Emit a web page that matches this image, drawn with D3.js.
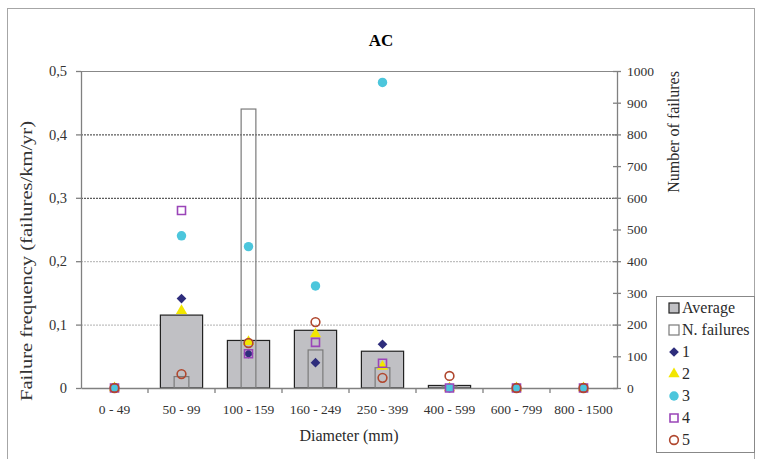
<!DOCTYPE html>
<html>
<head>
<meta charset="utf-8">
<script src="https://cdn.jsdelivr.net/npm/d3@7"></script>
<style>
  body { margin: 0; background: #fff; }
  svg, svg text { font-family: "Liberation Serif", "Times New Roman", "DejaVu Serif", serif !important; }
</style>
</head>
<body>
<script>
// diameter classes
const cats = ["0 - 49", "50 - 99", "100 - 159", "160 - 249", "250 - 399", "400 - 599", "600 - 799", "800 - 1500"];
// average failure frequency (left axis)
const average = [0, 0.115, 0.075, 0.091, 0.058, 0.004, 0, 0];
// number of failures (right axis)
const nFailures = [0, 36, 880, 120, 64, 6, 0, 0];
// failure frequency per zone
const s1 = [0, 0.141, 0.054, 0.040, 0.069, 0, 0, 0];
const s2 = [0, 0.122, 0.073, 0.085, 0.034, 0, 0, 0];
const s3 = [0, 0.240, 0.223, 0.161, 0.482, 0, 0, 0];
const s4 = [0, 0.280, 0.054, 0.072, 0.039, 0, 0, 0];
const s5 = [0, 0.022, 0.071, 0.104, 0.016, 0.019, 0, 0];
const leftTicks = [0, 0.1, 0.2, 0.3, 0.4, 0.5];
const rightTicks = [0, 100, 200, 300, 400, 500, 600, 700, 800, 900, 1000];

const width = 757, height = 459;
const margin = {top: 71, right: 140, bottom: 71, left: 81};

const svg = d3.select("body").append("svg")
    .attr("width", width)
    .attr("height", height);

// outer frame
svg.append("rect")
    .attr("x", 7.5).attr("y", 8.5)
    .attr("width", 747).attr("height", 470)
    .attr("fill", "none")
    .attr("stroke", "#a6a6a6");

const x = d3.scaleBand(cats, [margin.left, width - margin.right]);
const yL = d3.scaleLinear([0, 0.5], [height - margin.bottom, margin.top]);
const yR = d3.scaleLinear([0, 1000], [height - margin.bottom, margin.top]);

// title
svg.append("text")
    .attr("x", 381).attr("y", 46)
    .attr("text-anchor", "middle")
    .attr("font-size", 17)
    .attr("font-weight", "bold")
    .text("AC");

// grid
svg.append("g")
  .selectAll("line")
  .data(leftTicks.slice(1, -1))
  .join("line")
    .attr("x1", margin.left).attr("x2", width - margin.right)
    .attr("y1", d => yL(d) + 0.5).attr("y2", d => yL(d) + 0.5)
    .attr("stroke", d => d >= 0.3 ? "#333" : "#b0b0b0")
    .attr("stroke-dasharray", "2,1");

// top border
svg.append("line")
    .attr("x1", margin.left).attr("x2", width - margin.right)
    .attr("y1", margin.top + 0.5).attr("y2", margin.top + 0.5)
    .attr("stroke", "#888");

// average bars
const bwA = x.bandwidth() * 0.63;
svg.append("g")
  .selectAll("rect")
  .data(average)
  .join("rect")
    .attr("x", (d, i) => x(cats[i]) + (x.bandwidth() - bwA) / 2)
    .attr("y", d => yL(d))
    .attr("width", bwA)
    .attr("height", d => yL(0) - yL(d))
    .attr("fill", d => d > 0 ? "#c0c0c4" : "none")
    .attr("stroke", d => d > 0 ? "#222" : "none")
    .attr("stroke-width", 1.2);

// number of failures bars
const bwN = x.bandwidth() * 0.22;
svg.append("g")
  .selectAll("rect")
  .data(nFailures)
  .join("rect")
    .attr("x", (d, i) => x(cats[i]) + (x.bandwidth() - bwN) / 2)
    .attr("y", d => yR(d))
    .attr("width", bwN)
    .attr("height", d => yR(0) - yR(d))
    .attr("fill", "none")
    .attr("stroke", d => d > 0 ? "#7a7a7a" : "none")
    .attr("stroke-width", 1.2);

// axes
const axisColor = "#808080";
const gL = svg.append("g")
    .attr("transform", `translate(${margin.left},0)`)
    .call(d3.axisLeft(yL).tickValues(leftTicks).tickSize(5).tickSizeOuter(0).tickPadding(9)
      .tickFormat(d => d === 0 ? "0" : d3.format(".1f")(d).replace(".", ",")));
gL.selectAll("text").attr("font-size", 14.5).attr("fill", "#333");

const gR = svg.append("g")
    .attr("transform", `translate(${width - margin.right},0)`)
    .call(d3.axisRight(yR).tickValues(rightTicks).tickSize(4).tickSizeOuter(0).tickPadding(6)
      .tickFormat(d3.format("d")));
gR.selectAll(".tick line").attr("x1", -4);
gR.selectAll("text").attr("font-size", 13.5).attr("fill", "#333");

const gB = svg.append("g")
    .attr("transform", `translate(0,${height - margin.bottom})`)
    .call(d3.axisBottom(x).tickSize(0).tickPadding(16));
gB.selectAll("text").attr("font-size", 13.5).attr("fill", "#333");
gB.selectAll(".tick").filter((d, i) => i > 0).append("line")
    .attr("x1", -x.bandwidth() / 2).attr("x2", -x.bandwidth() / 2)
    .attr("y1", 0).attr("y2", 5)
    .attr("stroke", axisColor);

svg.selectAll(".domain, .tick line").attr("stroke", axisColor).attr("stroke-width", 1.3);

// axis titles
svg.append("text")
    .attr("transform", "translate(32,261) rotate(-90)")
    .attr("text-anchor", "middle")
    .attr("font-size", 16)
    .attr("textLength", 280)
    .attr("lengthAdjust", "spacingAndGlyphs")
    .attr("fill", "#333")
    .text("Failure frequency (failures/km/yr)");
svg.append("text")
    .attr("transform", "translate(679,132) rotate(-90)")
    .attr("text-anchor", "middle")
    .attr("font-size", 16)
    .attr("fill", "#2a2a2a")
    .text("Number of failures");
svg.append("text")
    .attr("x", (margin.left + width - margin.right) / 2).attr("y", 441)
    .attr("text-anchor", "middle")
    .attr("font-size", 16)
    .attr("fill", "#2a2a2a")
    .text("Diameter (mm)");

// markers
const series = [
  {name: "1", values: s1, shape: d3.symbolDiamond2, size: 60, fill: "#2e2d7c", stroke: "none"},
  {name: "2", values: s2, shape: d3.symbolTriangle, size: 55, fill: "#f2e600", stroke: "none"},
  {name: "3", values: s3, shape: d3.symbolCircle, size: 70, fill: "#4cc6dc", stroke: "none"},
  {name: "4", values: s4, shape: d3.symbolSquare, size: 64, fill: "none", stroke: "#9a45b8"},
  {name: "5", values: s5, shape: d3.symbolCircle, size: 60, fill: "none", stroke: "#b0472e"}
];
const cx = i => x(cats[i]) + x.bandwidth() / 2;
series.forEach(s => {
  svg.append("g")
    .selectAll("path")
    .data(s.values)
    .join("path")
      .attr("transform", (d, i) => `translate(${cx(i)},${yL(d)})`)
      .attr("d", d3.symbol(s.shape, s.size))
      .attr("fill", s.fill)
      .attr("stroke", s.stroke)
      .attr("stroke-width", 1.6);
});

// legend
const lg = svg.append("g");
lg.append("rect")
    .attr("x", 656.5).attr("y", 296.5)
    .attr("width", 98).attr("height", 156)
    .attr("fill", "#fff")
    .attr("stroke", "#888");
const items = [
  {label: "Average", kind: "bar"},
  {label: "N. failures", kind: "nbar"},
  ...series.map(s => ({label: s.name, kind: "sym", s}))
];
const item = lg.selectAll("g")
  .data(items)
  .join("g")
    .attr("transform", (d, i) => `translate(674,${308 + i * 22})`);
item.filter(d => d.kind !== "sym").append("rect")
    .attr("x", -5).attr("y", -5).attr("width", 10).attr("height", 10)
    .attr("fill", d => d.kind === "bar" ? "#c0c0c4" : "#fff")
    .attr("stroke", d => d.kind === "bar" ? "#222" : "#7a7a7a")
    .attr("stroke-width", 1.2);
item.filter(d => d.kind === "sym").append("path")
    .attr("d", d => d3.symbol(d.s.shape, d.s.size)())
    .attr("fill", d => d.s.fill)
    .attr("stroke", d => d.s.stroke)
    .attr("stroke-width", 1.6);
item.append("text")
    .attr("x", 8).attr("y", 5)
    .attr("font-size", 16)
    .attr("fill", "#2a2a2a")
    .text(d => d.label);
</script>
</body>
</html>
